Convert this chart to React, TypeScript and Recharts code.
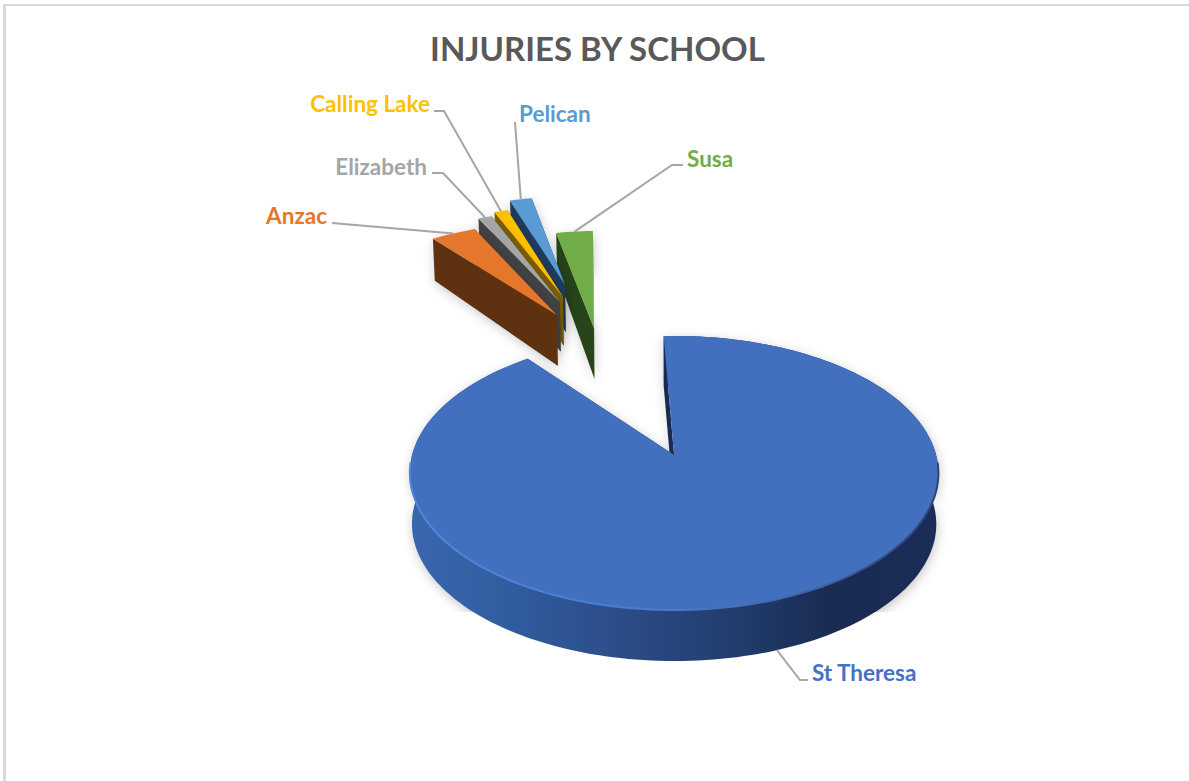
import { PieChart, Pie } from "recharts";

// listed far-to-near so the nearer wedges paint over the ones behind them
const schools = ["Susa", "Pelican", "Calling Lake", "Elizabeth", "Anzac", "St Theresa"];
const injuries = [8, 5, 3, 3, 10, 265];

const tableData = schools.map((name, i) => ({ name, value: injuries[i] }));

const TOP_COLORS: Record<string, string> = {
  "St Theresa": "#4270BF",
  Anzac: "#E5772D",
  Elizabeth: "#A5A5A5",
  "Calling Lake": "#FFC000",
  Pelican: "#5B9BD5",
  Susa: "#70AD47",
};
const WALL_COLORS: Record<string, string> = {
  "St Theresa": "#1A2B52",
  Anzac: "#5E3110",
  Elizabeth: "#434343",
  "Calling Lake": "#7F6000",
  Pelican: "#1F3D5E",
  Susa: "#27441A",
};

// how far each wedge is pulled out of the pie, in pie radii (across, away from viewer)
const EXPLODE: Record<string, [number, number]> = {
  "St Theresa": [0.008, 0],
  Anzac: [-0.509, 1.204],
  Elizabeth: [-0.503, 1.335],
  "Calling Lake": [-0.492, 1.387],
  Pelican: [-0.49, 1.514],
  Susa: [-0.34, 1.076],
};

// label text position plus the bend of its leader line
const LABELS: Record<string, { x: number; y: number; anchor: "start" | "end"; line: number[][] }> = {
  "St Theresa": { x: 812, y: 672, anchor: "start", line: [[808, 680], [800, 680]] },
  Anzac: { x: 327, y: 215, anchor: "end", line: [[332, 223]] },
  Elizabeth: { x: 427, y: 166, anchor: "end", line: [[432, 173], [443, 173]] },
  "Calling Lake": { x: 430, y: 103, anchor: "end", line: [[434, 111], [444, 111]] },
  Pelican: { x: 519, y: 113, anchor: "start", line: [[515, 122]] },
  Susa: { x: 687, y: 158, anchor: "start", line: [[683, 165], [672, 165]] },
};

const FONT = "Lato, 'Open Sans', sans-serif";
const CX = 672;
const CY = 455;
const RADIUS = 262;
const TILT = 0.5143; // vertical squash of the disc
const PERSPECTIVE = 0.131;
const SMALL_WEDGE_SCALE = 1.05;

const rad = (deg: number) => (deg * Math.PI) / 180;
const wedgeScale = (name: string) => (name === "St Theresa" ? 1 : SMALL_WEDGE_SCALE);

function project(u: number, v: number) {
  const w = 1 + PERSPECTIVE * v;
  return { x: CX + (RADIUS * u) / w, y: CY - (RADIUS * TILT * v) / w, v };
}

// same point on the underside of the disc
function drop(p: { x: number; y: number; v: number }) {
  const depth = p.v <= 1.2 ? 51 : 51 - 11 * (p.v - 1.2);
  return { x: CX + (p.x - CX) * 0.992, y: p.y + depth, v: p.v };
}

const toPath = (pts: { x: number; y: number }[]) =>
  "M" + pts.map((p) => `${p.x.toFixed(1)},${p.y.toFixed(1)}`).join("L") + "Z";

function arcPoints(name: string, start: number, end: number) {
  const [du, dv] = EXPLODE[name];
  const k = wedgeScale(name);
  const n = Math.max(2, Math.ceil(Math.abs(end - start) / 1.5));
  const out = [];
  for (let i = 0; i <= n; i++) {
    const a = rad(start + ((end - start) * i) / n);
    out.push(project(du + k * Math.cos(a), dv + k * Math.sin(a)));
  }
  return out;
}

function Wedge(props: any) {
  const name: string = props.name ?? props.payload?.name;
  const { startAngle, endAngle } = props;
  const [du, dv] = EXPLODE[name];
  const tip = project(du, dv);
  const arc = arcPoints(name, startAngle, endAngle);
  const isMain = name === "St Theresa";

  const topFace = toPath([tip, ...arc]);
  const rimWall = toPath([...arc, ...arc.map(drop).reverse()]);
  const first = arc[0];
  const last = arc[arc.length - 1];
  const sideA = toPath([tip, first, drop(first), drop(tip)]);
  const sideB = toPath([tip, last, drop(last), drop(tip)]);
  const front = arc.filter((p) => p.v < -0.05);

  return (
    <g>
      <g
        filter="url(#softShadow)"
        clipPath="url(#shadowClip)"
        opacity={isMain ? 0.22 : 0.2}
        transform="translate(1,3)"
      >
        <path d={rimWall} />
        <path d={sideA} />
        <path d={sideB} />
      </g>
      {/* the small wedges only ever show their cut faces */}
      {isMain && <path d={rimWall} fill="url(#rimShade)" />}
      <path d={sideA} fill={WALL_COLORS[name]} />
      <path d={sideB} fill={WALL_COLORS[name]} />
      <path d={topFace} fill={TOP_COLORS[name]} />
      {isMain && (
        <path
          d={"M" + front.map((p) => `${p.x.toFixed(1)},${p.y.toFixed(1)}`).join("L")}
          fill="none"
          stroke="url(#rimLight)"
          strokeWidth={2}
        />
      )}
    </g>
  );
}

function SchoolLabel(props: any) {
  const name: string = props.name ?? props.payload?.name;
  const spec = LABELS[name];
  const [du, dv] = EXPLODE[name];
  const k = wedgeScale(name);
  const a = rad(props.midAngle);
  let end = project(du + k * Math.cos(a), dv + k * Math.sin(a));
  if (name === "St Theresa") end = drop(end);
  const pts = [...spec.line, [end.x, end.y]];
  return (
    <g>
      <polyline
        points={pts.map((p) => p.join(",")).join(" ")}
        fill="none"
        stroke="#A6A6A6"
        strokeWidth={2}
      />
      <text
        x={spec.x}
        y={spec.y}
        textAnchor={spec.anchor}
        dominantBaseline="central"
        fontFamily={FONT}
        fontWeight={700}
        fontSize={22.5}
        fill={name === "St Theresa" ? "#4472C4" : TOP_COLORS[name]}
      >
        {name}
      </text>
    </g>
  );
}

export default function App() {
  return (
    <div
      style={{
        position: "absolute",
        left: 0,
        top: 0,
        width: 1189,
        height: 781,
        overflow: "hidden",
        background: "#fff",
      }}
    >
      <div
        style={{
          position: "absolute",
          left: 3,
          top: 4,
          width: 1300,
          height: 900,
          borderTop: "2px solid #D9D9D9",
          borderLeft: "3px solid #D9D9D9",
        }}
      />
      <div
        style={{
          position: "absolute",
          left: 0,
          top: 27,
          width: 1195,
          textAlign: "center",
          fontFamily: FONT,
          fontWeight: 700,
          fontSize: 33,
          lineHeight: "42px",
          color: "#595959",
        }}
      >
        INJURIES BY SCHOOL
      </div>
      <div style={{ position: "absolute", left: 0, top: 0 }}>
        <PieChart width={1189} height={781} margin={{ top: 0, right: 0, bottom: 0, left: 0 }}>
          <defs>
            <filter id="softShadow" x="-20%" y="-20%" width="140%" height="140%">
              <feGaussianBlur stdDeviation="6" />
            </filter>
            <clipPath id="shadowClip">
              <rect x={0} y={0} width={1189} height={609} />
            </clipPath>
            <linearGradient id="rimShade" gradientUnits="userSpaceOnUse" x1={410} y1={0} x2={938} y2={0}>
              <stop offset="0" stopColor="#3A66AE" />
              <stop offset="0.2" stopColor="#305C9F" />
              <stop offset="0.4" stopColor="#2C4C88" />
              <stop offset="0.6" stopColor="#223E70" />
              <stop offset="0.8" stopColor="#1A2B52" />
              <stop offset="1" stopColor="#1B2D57" />
            </linearGradient>
            <linearGradient id="rimLight" gradientUnits="userSpaceOnUse" x1={410} y1={0} x2={938} y2={0}>
              <stop offset="0" stopColor="#5285E0" />
              <stop offset="0.5" stopColor="#4A7BD0" />
              <stop offset="0.8" stopColor="#3A5F9E" />
              <stop offset="1" stopColor="#2A4478" />
            </linearGradient>
          </defs>
          <Pie
            data={tableData}
            dataKey="value"
            nameKey="name"
            cx={CX}
            cy={CY}
            innerRadius={0}
            outerRadius={RADIUS}
            startAngle={92.5}
            endAngle={452.5}
            stroke="none"
            isAnimationActive={false}
            shape={Wedge}
            inactiveShape={Wedge}
            label={SchoolLabel}
            labelLine={false}
          />
        </PieChart>
      </div>
    </div>
  );
}
